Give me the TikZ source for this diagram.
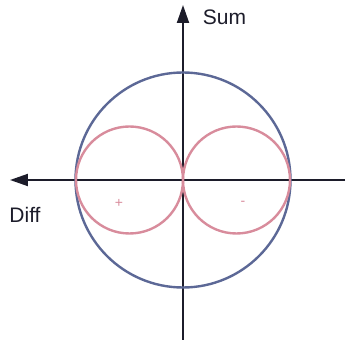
\documentclass[tikz,border=0pt]{standalone}
\usepackage{fontspec}
\setmainfont{Liberation Sans}
\usetikzlibrary{arrows.meta,positioning}
\definecolor{eixocor}{HTML}{1C1C2A}
\definecolor{azul}{HTML}{5C6896}
\definecolor{rosa}{HTML}{D88C9C}

\begin{document}
\begin{tikzpicture}[
    x=0.5pt, y=0.5pt,
    >={Triangle[length=9pt, width=6pt]},
    font=\fontsize{10.5}{12}\selectfont,
    eixo/.style={draw=eixocor, line width=1pt},
    circulo/.style={line width=1.2pt},
    sinal/.style={text=rosa, font=\fontsize{7}{8}\selectfont}
  ]
  \useasboundingbox (-183,-178) rectangle (176,180);

  % ── eixos ───────────────────────────────────────────────────────
  \coordinate (O) at (0,0);
  \coordinate (topo)  at (0,175);
  \coordinate (baixo) at (0,-160);
  \coordinate (esq)   at (-173,0);
  \coordinate (dir)   at (162,0);

  \draw[eixo, ->] (baixo) -- (topo);
  \draw[eixo, ->] (dir) -- (esq);

  \node[text=eixocor] (sum)  at (41.5,163)   {Sum};
  \node[text=eixocor] (diff) at (-158,-34.5) {Diff};

  % ── círculos ────────────────────────────────────────────────────
  \draw[circulo, azul] (O) circle (107.5);
  \draw[circulo, rosa] (-53.5,0) circle (53.5);
  \draw[circulo, rosa] (53.5,0)  circle (53.5);

  \node[sinal] (mais)  at (-64,-23) {+};
  \node[sinal] (menos) at (60,-23)  {-};

\end{tikzpicture}
\end{document}
